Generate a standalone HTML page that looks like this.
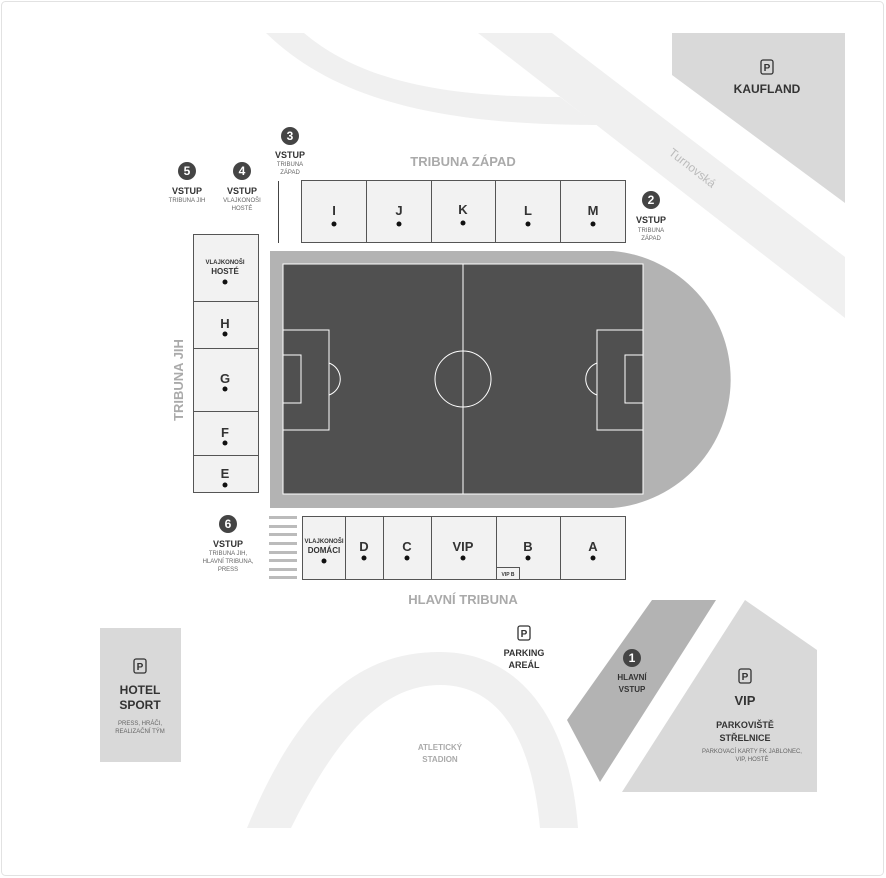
<!DOCTYPE html>
<html><head><meta charset="utf-8"><style>
html,body{margin:0;padding:0;background:#fff}
svg{display:block}
text{font-family:"Liberation Sans","DejaVu Sans",sans-serif}
</style></head><body>
<svg width="886" height="878" viewBox="0 0 886 878" xmlns="http://www.w3.org/2000/svg">
<rect x="1.5" y="1.5" width="882" height="874" rx="4" fill="#fff" stroke="#e2e2e2"/>
<!-- roads -->
<path d="M266,33 H304 C360,80 440,97 560,97 L597,125 C440,125 335,100 266,33 Z" fill="#f0f0f0"/>
<path d="M478,33 H552 L845,257 V318 Z" fill="#f0f0f0"/>
<text x="0" y="0" transform="translate(668,154) rotate(38)" font-size="12" fill="#bbb">Turnovská</text>
<polygon points="672,33 845,33 845,203 672,75" fill="#d9d9d9"/>
<!-- stadium -->
<path d="M270,251 H613 A129,129 0 0 1 613,508 H270 Z" fill="#b3b3b3"/>
<rect x="283" y="264" width="360" height="230" fill="#505050" stroke="#fff" stroke-width="1"/>
<g fill="none" stroke="#fff" stroke-width="1">
<line x1="463" y1="264" x2="463" y2="494"/>
<circle cx="463" cy="379" r="28"/>
<rect x="283" y="330" width="46" height="100"/>
<rect x="283" y="355" width="18" height="48"/>
<path d="M329,363 A17,17 0 0 1 329,395"/>
<rect x="597" y="330" width="46" height="100"/>
<rect x="625" y="355" width="18" height="48"/>
<path d="M597,363 A17,17 0 0 0 597,395"/>
</g>
<!-- top stand -->
<g stroke="#555" stroke-width="1" fill="#f2f2f2">
<rect x="301.5" y="180.5" width="65" height="62"/>
<rect x="366.5" y="180.5" width="65" height="62"/>
<rect x="431.5" y="180.5" width="64" height="62"/>
<rect x="495.5" y="180.5" width="65" height="62"/>
<rect x="560.5" y="180.5" width="65" height="62"/>
</g>
<line x1="278.5" y1="181" x2="278.5" y2="243" stroke="#444"/>
<g font-size="13" fill="#333" text-anchor="middle" font-weight="bold">
<text x="334" y="215">I</text><text x="399" y="215">J</text><text x="463" y="214">K</text><text x="528" y="215">L</text><text x="593" y="215">M</text>
</g>
<g fill="#111"><circle cx="334" cy="224" r="2.5"/><circle cx="399" cy="224" r="2.5"/><circle cx="463" cy="223" r="2.5"/><circle cx="528" cy="224" r="2.5"/><circle cx="593" cy="224" r="2.5"/></g>
<!-- left stand -->
<g stroke="#555" stroke-width="1" fill="#f2f2f2">
<rect x="193.5" y="234.5" width="65" height="67"/>
<rect x="193.5" y="301.5" width="65" height="47"/>
<rect x="193.5" y="348.5" width="65" height="63"/>
<rect x="193.5" y="411.5" width="65" height="44"/>
<rect x="193.5" y="455.5" width="65" height="37"/>
</g>
<g text-anchor="middle" fill="#333" font-weight="bold">
<text x="225" y="264" font-size="6">VLAJKONOŠI</text>
<text x="225" y="274" font-size="8">HOSTÉ</text>
<text x="225" y="328" font-size="13">H</text>
<text x="225" y="383" font-size="13">G</text>
<text x="225" y="437" font-size="13">F</text>
<text x="225" y="478" font-size="13">E</text>
</g>
<g fill="#111"><circle cx="225" cy="282" r="2.5"/><circle cx="225" cy="334" r="2.5"/><circle cx="225" cy="389" r="2.5"/><circle cx="225" cy="443" r="2.5"/><circle cx="225" cy="485" r="2.5"/></g>
<text transform="translate(183,380) rotate(-90)" text-anchor="middle" font-size="13" font-weight="bold" fill="#aaa">TRIBUNA JIH</text>
<!-- bottom stand -->
<g fill="#bbb">
<rect x="269" y="516" width="28" height="3"/><rect x="269" y="525" width="28" height="3"/><rect x="269" y="533" width="28" height="3"/><rect x="269" y="542" width="28" height="3"/><rect x="269" y="551" width="28" height="3"/><rect x="269" y="559" width="28" height="3"/><rect x="269" y="568" width="28" height="3"/><rect x="269" y="576" width="28" height="3"/>
</g>
<g stroke="#555" stroke-width="1" fill="#f2f2f2">
<rect x="302.5" y="516.5" width="43" height="63"/>
<rect x="345.5" y="516.5" width="38" height="63"/>
<rect x="383.5" y="516.5" width="48" height="63"/>
<rect x="431.5" y="516.5" width="65" height="63"/>
<rect x="496.5" y="516.5" width="64" height="63"/>
<rect x="560.5" y="516.5" width="65" height="63"/>
<rect x="496.5" y="567.5" width="23" height="12"/>
</g>
<g text-anchor="middle" fill="#333" font-weight="bold">
<text x="324" y="543" font-size="6">VLAJKONOŠI</text>
<text x="324" y="553" font-size="8">DOMÁCI</text>
<text x="364" y="551" font-size="13">D</text>
<text x="407" y="551" font-size="13">C</text>
<text x="463" y="551" font-size="13">VIP</text>
<text x="528" y="551" font-size="13">B</text>
<text x="593" y="551" font-size="13">A</text>
<text x="508" y="576" font-size="5">VIP B</text>
</g>
<g fill="#111"><circle cx="324" cy="561" r="2.5"/><circle cx="364" cy="558" r="2.5"/><circle cx="407" cy="558" r="2.5"/><circle cx="463" cy="558" r="2.5"/><circle cx="528" cy="558" r="2.5"/><circle cx="593" cy="558" r="2.5"/></g>
<g text-anchor="middle" font-weight="bold" font-size="13" fill="#aaa">
<text x="463" y="166">TRIBUNA ZÁPAD</text>
<text x="463" y="604">HLAVNÍ TRIBUNA</text>
</g>
<!-- entries -->
<g fill="#444">
<circle cx="290" cy="136" r="9"/><circle cx="187" cy="171" r="9"/><circle cx="242" cy="171" r="9"/><circle cx="651" cy="200" r="9"/><circle cx="228" cy="524" r="9"/>
</g>
<g fill="#fff" font-weight="bold" font-size="12" text-anchor="middle">
<text x="290" y="140">3</text><text x="187" y="175">5</text><text x="242" y="175">4</text><text x="651" y="204">2</text><text x="228" y="528">6</text>
</g>
<g text-anchor="middle" fill="#333">
<text x="290" y="158" font-size="9" font-weight="bold">VSTUP</text>
<text x="290" y="166" font-size="6" fill="#666">TRIBUNA</text><text x="290" y="174" font-size="6" fill="#666">ZÁPAD</text>
<text x="187" y="194" font-size="9" font-weight="bold">VSTUP</text>
<text x="187" y="202" font-size="6" fill="#666">TRIBUNA JIH</text>
<text x="242" y="194" font-size="9" font-weight="bold">VSTUP</text>
<text x="242" y="202" font-size="6" fill="#666">VLAJKONOŠI</text><text x="242" y="210" font-size="6" fill="#666">HOSTÉ</text>
<text x="651" y="223" font-size="9" font-weight="bold">VSTUP</text>
<text x="651" y="232" font-size="6" fill="#666">TRIBUNA</text><text x="651" y="240" font-size="6" fill="#666">ZÁPAD</text>
<text x="228" y="547" font-size="9" font-weight="bold">VSTUP</text>
<text x="228" y="555" font-size="6" fill="#666">TRIBUNA JIH,</text><text x="228" y="563" font-size="6" fill="#666">HLAVNÍ TRIBUNA,</text><text x="228" y="571" font-size="6" fill="#666">PRESS</text>
</g>
<!-- bottom area -->
<rect x="100" y="628" width="81" height="134" fill="#d9d9d9"/>
<path d="M247,828 C300,700 360,652 440,652 C520,652 570,720 578,828 H540 C532,740 500,685 440,685 C380,685 335,740 291,828 Z" fill="#f0f0f0"/>
<polygon points="652,600 716,600 600,782 567,720" fill="#b3b3b3"/>
<polygon points="745,600 817,650 817,792 622,792" fill="#d9d9d9"/>
<g fill="none" stroke="#333" stroke-width="1.3">
<rect x="761" y="60" width="12" height="14" rx="2"/>
<rect x="518" y="626" width="12" height="14" rx="2"/>
<rect x="134" y="659" width="12" height="14" rx="2"/>
<rect x="739" y="669" width="12" height="14" rx="2"/>
</g>
<g text-anchor="middle" fill="#333" font-weight="bold">
<text x="767" y="71" font-size="10">P</text>
<text x="524" y="637" font-size="10">P</text>
<text x="140" y="670" font-size="10">P</text>
<text x="745" y="680" font-size="10">P</text>
<text x="767" y="93" font-size="12">KAUFLAND</text>
<text x="524" y="656" font-size="9">PARKING</text><text x="524" y="668" font-size="9">AREÁL</text>
<text x="140" y="694" font-size="12">HOTEL</text><text x="140" y="709" font-size="12">SPORT</text>
<text x="745" y="705" font-size="13">VIP</text>
<text x="745" y="728" font-size="9">PARKOVIŠTĚ</text><text x="745" y="741" font-size="9">STŘELNICE</text>
<text x="632" y="680" font-size="8">HLAVNÍ</text><text x="632" y="692" font-size="8">VSTUP</text>
<text x="440" y="750" font-size="8" fill="#aaa">ATLETICKÝ</text><text x="440" y="762" font-size="8" fill="#aaa">STADION</text>
</g>
<g text-anchor="middle" fill="#666" font-size="6">
<text x="140" y="725">PRESS, HRÁČI,</text><text x="140" y="733">REALIZAČNÍ TÝM</text>
<text x="752" y="753">PARKOVACÍ KARTY FK JABLONEC,</text><text x="752" y="761">VIP, HOSTÉ</text>
</g>
<circle cx="632" cy="658" r="9" fill="#444"/>
<text x="632" y="662" text-anchor="middle" font-size="12" font-weight="bold" fill="#fff">1</text>
</svg>
</body></html>
